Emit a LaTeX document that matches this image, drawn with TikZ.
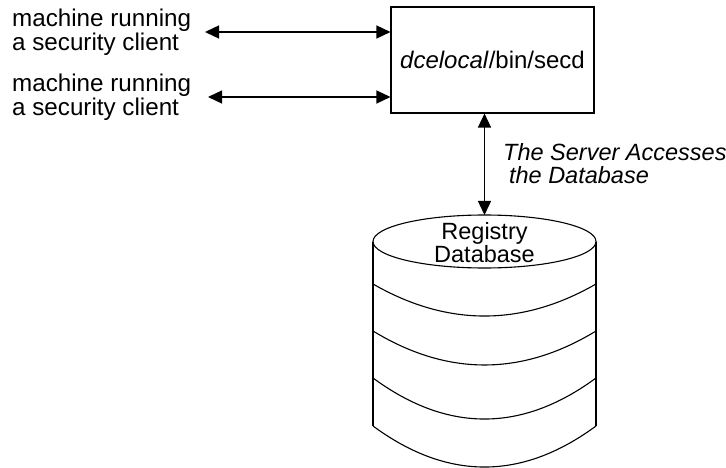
\documentclass[tikz,border=0pt]{standalone}
\usepackage{fontspec}
\setmainfont{Liberation Sans}
\usetikzlibrary{arrows.meta}
\begin{document}
\begin{tikzpicture}[x=1pt,y=-1pt,
  lbl/.style={font=\fontsize{23.5}{21}\selectfont, inner sep=0pt, align=left},
  client/.style={lbl, anchor=west, font=\fontsize{24.2}{21}\selectfont},
  conn/.style={line width=1.4pt, {Triangle[length=14pt,width=13pt]}-{Triangle[length=14pt,width=13pt]}},
  lw/.style={line width=1.1pt}]
\useasboundingbox (0,0) rectangle (726,468);
% clients
\node[client] (c1) at (12,32) {machine running\\a security client};
\node[client] (c2) at (12,97) {machine running\\a security client};
% server
\node[lw, draw, minimum width=203pt, minimum height=106pt, inner sep=0pt,
      font=\fontsize{24}{21}\selectfont] (server) at (492.5,60) {\textit{dcelocal}/bin/secd};
\coordinate (a1) at (205,32);
\coordinate (a2) at (208,97);
\draw[conn] (a1) -- (a1 -| server.west);
\draw[conn] (a2) -- (a2 -| server.west);
% database cylinder
\coordinate (dbtop) at (484.5,215);
\draw[lw] (484.5,241.5) ellipse [x radius=111.5, y radius=26.5];
\draw[lw] (373,241.5) -- (373,426);
\draw[lw] (596,241.5) -- (596,426);
\draw[lw] (373,284) .. controls (447.3,326.7) and (521.7,326.7) .. (596,284);
\draw[lw] (373,331) .. controls (447.3,376.3) and (521.7,376.3) .. (596,331);
\draw[lw] (373,378) .. controls (447.3,432.7) and (521.7,432.7) .. (596,378);
\draw[lw] (373,426) .. controls (447.3,480.7) and (521.7,480.7) .. (596,426);
\node[lbl, align=center] (db) at (484.5,243) {Registry\\Database};
% server-database connector
\draw[conn] (server.south -| dbtop) -- (dbtop);
\node[lbl, anchor=west, font=\fontsize{23.5}{23}\selectfont\itshape] (acc) at (503,164) {The Server Accesses\\\hspace{0.25em}the Database};
\end{tikzpicture}
\end{document}
